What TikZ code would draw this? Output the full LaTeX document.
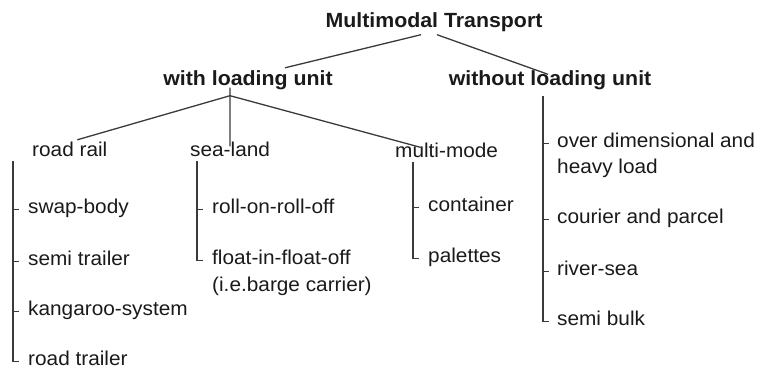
\documentclass[tikz,border=0pt]{standalone}
\usepackage{fontspec}
\setmainfont{Liberation Sans}[FakeStretch=1.04]
\definecolor{ink}{HTML}{1A1A1A}
\definecolor{wire}{HTML}{3A3A3A}
\begin{document}
\begin{tikzpicture}[x=1pt,y=-1pt,
  lbl/.style={inner sep=0pt, text=ink, font=\fontsize{20}{22}\selectfont,
    text height=0.8em, text depth=0.15em, anchor=base west},
  head/.style={inner sep=0pt, text=ink, font=\fontsize{20.5}{23}\selectfont\bfseries,
    text height=0.8em, text depth=0.15em, anchor=base},
  wire/.style={draw=wire, line width=1.3pt}]
\useasboundingbox (0,0) rectangle (766,370);

% headings
\node[head] (mt)   at (434,27) {Multimodal Transport};
\node[head] (wlu)  at (248,85) {with loading unit};
\node[head] (wolu) at (550,85) {without loading unit};

% groups with loading unit
\node[lbl] (rr) at (32,156)  {road rail};
\node[lbl] (sl) at (190,156) {sea-land};
\node[lbl] (mm) at (395,157) {multi-mode};

% road rail items
\node[lbl] (swap) at (28,213) {swap-body};
\node[lbl] (semi) at (28,265) {semi trailer};
\node[lbl] (kang) at (28,315) {kangaroo-system};
\node[lbl] (rtr)  at (28,365) {road trailer};

% sea-land items
\node[lbl] (roro)  at (212,213) {roll-on-roll-off};
\node[lbl] (fifo)  at (212,264) {float-in-float-off};
\node[lbl] (barge) at (212,291) {(i.e.barge carrier)};

% multi-mode items
\node[lbl] (cont) at (428,211) {container};
\node[lbl] (pal)  at (428,262) {palettes};

% without loading unit items
\node[lbl] (odim)  at (557,147) {over dimensional and};
\node[lbl] (heavy) at (557,173) {heavy load};
\node[lbl] (cour)  at (557,223) {courier and parcel};
\node[lbl] (river) at (557,275) {river-sea};
\node[lbl] (sbulk) at (557,325) {semi bulk};

% top level branches
\draw[wire] ([shift={(-13,6)}]mt.south) -- ([shift={(37,-9)}]wlu.north);
\draw[wire] ([shift={(3,6)}]mt.south) -- ([shift={(-2,-2.5)}]wolu.north);

% second level branches
\coordinate (fork) at ([shift={(-18,9)}]wlu.south);
\draw[wire] (fork) -- ([shift={(7.5,-8)}]rr.north);
\draw[wire] (fork) -- ([shift={(-24.4,-1)}]mm.north);
\draw[wire] ([yshift=8]fork) -- ([shift={(0,-1.5)}]sl.north);

% road rail list
\coordinate (rrtop) at ([shift={(-19,3)}]rr.south west);
\foreach \i in {swap,semi,kang}
  \draw[wire] (\i.west -| rrtop) -- ++(6,0);
\draw[wire] (rrtop) |- ([xshift=-9]rtr.west);

% sea-land list
\coordinate (sltop) at ([shift={(7,3)}]sl.south west);
\draw[wire] (roro.west -| sltop) -- ++(6,0);
\draw[wire] (sltop) |- ([xshift=-9]fifo.west);

% multi-mode list
\coordinate (mmtop) at ([shift={(18,3)}]mm.south west);
\draw[wire] (cont.west -| mmtop) -- ++(6,0);
\draw[wire] (mmtop) |- ([xshift=-9]pal.west);

% without loading unit list
\coordinate (wotop) at ([shift={(-7,9)}]wolu.south);
\foreach \i in {odim,cour,river}
  \draw[wire] (\i.west -| wotop) -- ++(6,0);
\draw[wire] (wotop) |- ([xshift=-8]sbulk.west);
\end{tikzpicture}
\end{document}
